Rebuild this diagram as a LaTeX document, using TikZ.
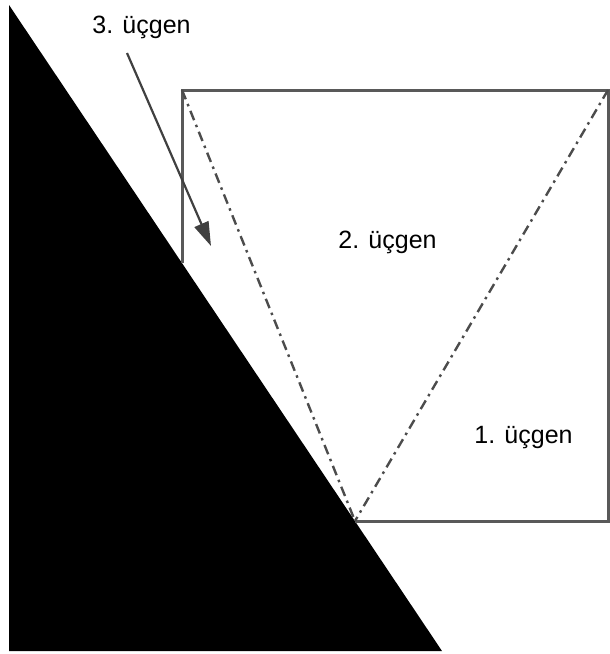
\documentclass[tikz,border=0pt]{standalone}
\usepackage{fontspec}
\setmainfont{Liberation Sans}
\usetikzlibrary{arrows.meta}
\begin{document}
\begin{tikzpicture}[x=1pt,y=-1pt,
  lbl/.style={font=\fontsize{25}{30}\selectfont, anchor=base, inner sep=0pt},
  frameline/.style={draw=black!65, line width=3pt},
  dashline/.style={draw=black!70, line width=2.4pt, dash pattern=on 10pt off 5pt on 2.5pt off 5pt},
  pointer/.style={draw=black!75, line width=2.2pt, -{Triangle[length=24pt,width=15pt]}}]
\useasboundingbox (0,0) rectangle (610,654);
% black triangle
\coordinate (T1) at (9,5);
\coordinate (T2) at (9,651);
\coordinate (T3) at (442,651);
\fill[black] (T1) -- (T2) -- (T3) -- cycle;
% frame
\coordinate (A) at (182,263);
\coordinate (B) at (182,90);
\coordinate (C) at (608,90);
\coordinate (D) at (608,521);
\coordinate (E) at (355,521);
\draw[frameline] (A) -- (B) -- (C) -- (D) -- (E);
% dash-dot lines
\draw[dashline] (B) -- (E);
\draw[dashline] (C) -- (E);
% labels
\node[lbl] (L3) at (141.5,33) {3. üçgen};
\node[lbl] (L2) at (387.5,248) {2. üçgen};
\node[lbl] (L1) at (523.5,443) {1. üçgen};
% arrow
\coordinate (P0) at (127,53);
\coordinate (P1) at (211,246);
\draw[pointer] (P0) -- (P1);
\end{tikzpicture}
\end{document}
